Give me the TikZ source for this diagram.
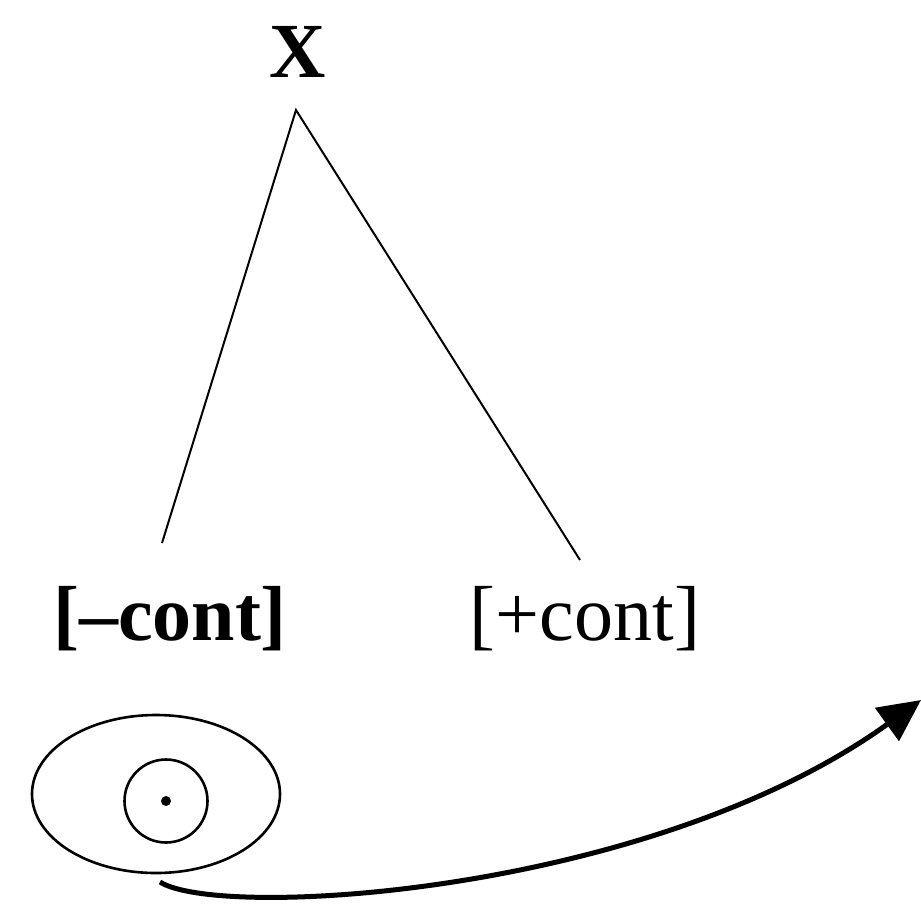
\documentclass[tikz,border=0pt]{standalone}
\usepackage{fontspec}
\setmainfont{Liberation Serif}
\usetikzlibrary{arrows.meta,shapes.geometric}
\begin{document}
\begin{tikzpicture}[x=1pt,y=-1pt,
  lbl/.style={inner sep=0pt,font=\fontsize{78}{80}\selectfont},
  thinline/.style={line width=2pt},
  ring/.style={line width=2.6pt}]
\useasboundingbox (0,0) rectangle (921,906);
\node[lbl,font=\fontsize{78}{80}\selectfont\bfseries,anchor=base] (x) at (298,77) {X};
\coordinate (top) at (296,110);
\coordinate (lend) at (162,543);
\coordinate (rend) at (580,560);
\draw[thinline] (lend) -- (top) -- (rend);
\node[lbl,font=\fontsize{78}{80}\selectfont\bfseries,anchor=base] (minus) at (170,640) {[–cont]};
\node[lbl,anchor=base] (plus) at (585,640) {[+cont]};
\node[draw,ring,ellipse,minimum width=248pt,minimum height=158pt,inner sep=0pt] (outer) at (156,794) {};
\node[draw,ring,circle,minimum size=83pt,inner sep=0pt] (inner) at (166,801) {};
\node[fill,circle,minimum size=10pt,inner sep=0pt] (dot) at (166,801) {};
\coordinate (cstart) at (160,882);
\coordinate (ctip) at (921,700);
\draw[line width=5pt,-{Triangle[length=42pt,width=40pt]}] (cstart) .. controls (220,920) and (650,895) .. (ctip);
\end{tikzpicture}
\end{document}
